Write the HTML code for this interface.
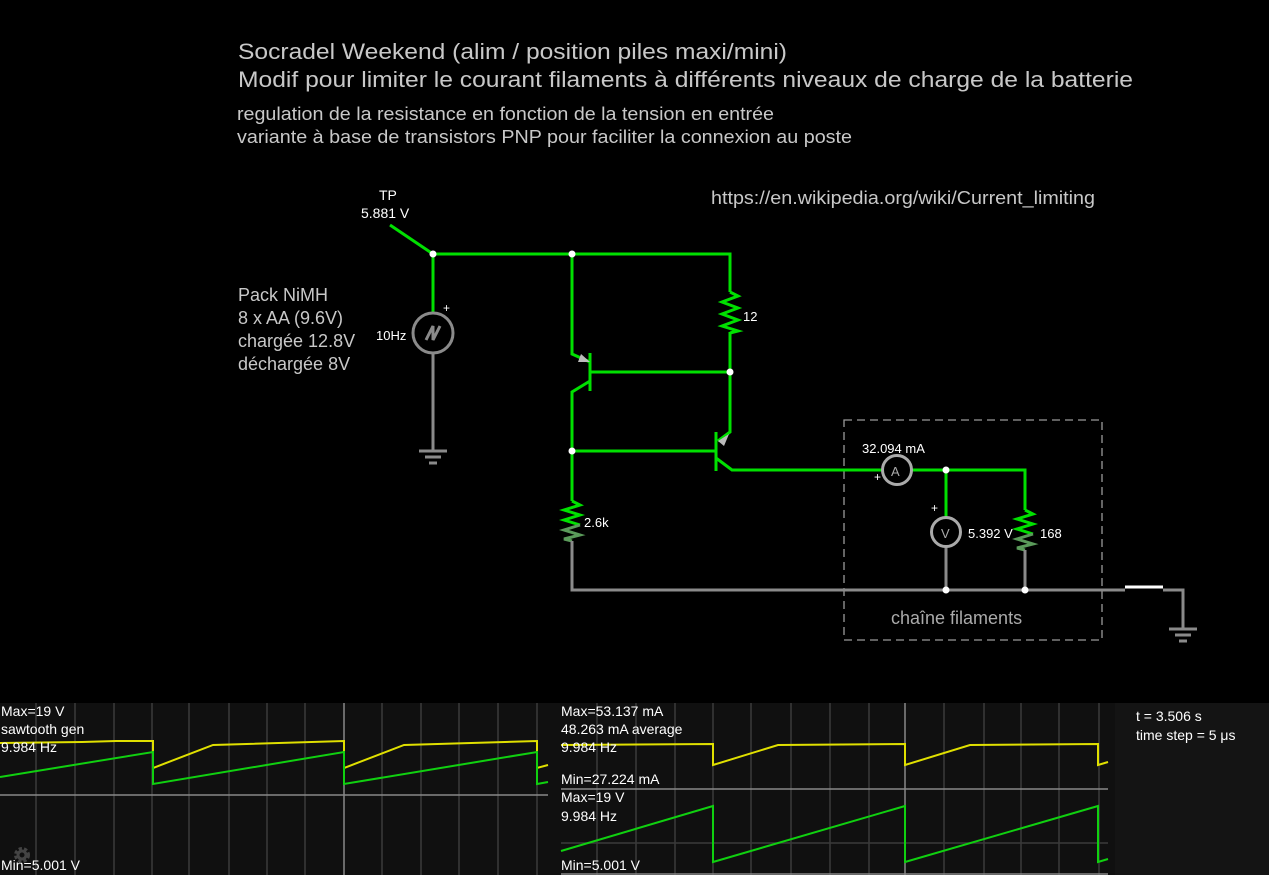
<!DOCTYPE html>
<html><head><meta charset="utf-8"><style>
html,body{margin:0;padding:0;background:#000;width:1269px;height:875px;overflow:hidden}
svg{display:block;font-family:"Liberation Sans",sans-serif}
</style></head><body>
<svg width="1269" height="875" viewBox="0 0 1269 875">
<rect width="1269" height="875" fill="#000"/>
<g fill="#c8c8c8">
<text x="238" y="59" font-size="22" textLength="549" lengthAdjust="spacingAndGlyphs">Socradel Weekend (alim / position piles maxi/mini)</text>
<text x="238" y="87" font-size="22" textLength="895" lengthAdjust="spacingAndGlyphs">Modif pour limiter le courant filaments à différents niveaux de charge de la batterie</text>
<text x="237" y="120" font-size="18" textLength="537" lengthAdjust="spacingAndGlyphs">regulation de la resistance en fonction de la tension en entrée</text>
<text x="237" y="143" font-size="18" textLength="615" lengthAdjust="spacingAndGlyphs">variante à base de transistors PNP pour faciliter la connexion au poste</text>
<text x="711" y="204" font-size="18" textLength="384" lengthAdjust="spacingAndGlyphs">https://en.wikipedia.org/wiki/Current_limiting</text>
<text x="238" y="301" font-size="18">Pack NiMH</text>
<text x="238" y="324" font-size="18">8 x AA (9.6V)</text>
<text x="238" y="347" font-size="18">chargée 12.8V</text>
<text x="238" y="370" font-size="18">déchargée 8V</text>
<text x="891" y="624" font-size="18" fill="#aaa">chaîne filaments</text>
</g>
<g fill="#fff" font-size="14">
<text x="379" y="200">TP</text>
<text x="361" y="218">5.881 V</text>
<text x="376" y="340" font-size="13">10Hz</text>
<text x="443" y="312" font-size="12">+</text>
<text x="743" y="321" font-size="13">12</text>
<text x="584" y="527" font-size="13">2.6k</text>
<text x="862" y="453" font-size="13">32.094 mA</text>
<text x="874" y="481" font-size="12">+</text>
<text x="931" y="512" font-size="12">+</text>
<text x="968" y="538" font-size="13">5.392 V</text>
<text x="1040" y="538" font-size="13">168</text>
</g>
<rect x="844" y="420" width="258" height="220" fill="none" stroke="#999" stroke-width="1.3" stroke-dasharray="8,5"/>
<g fill="none" stroke="#00e000" stroke-width="3" stroke-linejoin="miter">
<polyline points="390,225 433,254 730,254 730,292"/>
<line x1="433" y1="254" x2="433" y2="312"/>
<polyline points="572,254 572,354 590,362"/>
<line x1="590" y1="353" x2="590" y2="391"/>
<line x1="590" y1="372" x2="730" y2="372"/>
<polyline points="590,381 572,392 572,501"/>
<line x1="572" y1="451" x2="716" y2="451"/>
<polyline points="730,332 730,432 718,441"/>
<line x1="716" y1="432" x2="716" y2="471"/>
<polyline points="716,458 732,470 882,470"/>
<polyline points="912,470 1025,470 1025,510"/>
<line x1="946" y1="470" x2="946" y2="517"/>
<polyline points="730,292 738,296 722,302 738,308 722,314 738,320 722,326 738,331 730,333"/>
<polyline points="572,501 580,505 564,510 580,515 564,520 580,525"/>
<polyline points="1025,510 1033,514 1017,519 1033,524 1017,529 1033,534"/>
</g>
<g fill="none" stroke="#5a9a5a" stroke-width="3">
<polyline points="580,525 564,530 580,535 564,539 572,541"/>
<polyline points="1033,534 1017,539 1033,544 1017,548 1025,550"/>
</g>
<polygon points="590,362 581,354 578,362" fill="#bbb"/>
<polygon points="718,441 729,434 724,446" fill="#bbb"/>
<g fill="none" stroke="#8a8a8a" stroke-width="3">
<line x1="433" y1="353" x2="433" y2="451"/>
<polyline points="572,541 572,590 1125,590"/>
<line x1="946" y1="547" x2="946" y2="590"/>
<line x1="1025" y1="550" x2="1025" y2="590"/>
<polyline points="1163,590 1183,590 1183,628"/>
<line x1="419" y1="451" x2="447" y2="451"/>
<line x1="425" y1="457" x2="441" y2="457"/>
<line x1="429" y1="463" x2="437" y2="463"/>
<line x1="1169" y1="629" x2="1197" y2="629"/>
<line x1="1175" y1="635" x2="1191" y2="635"/>
<line x1="1179" y1="641" x2="1187" y2="641"/>
<circle cx="433" cy="333" r="20"/>
<circle cx="897" cy="470" r="14.5" stroke="#aaa"/>
<circle cx="946" cy="532" r="14.5" stroke="#aaa"/>
</g>
<polyline points="426,340 433,326 433,340 440,326" fill="none" stroke="#8a8a8a" stroke-width="3"/>
<text x="891" y="476" font-size="13" fill="#aaa">A</text>
<text x="941" y="538" font-size="13" fill="#aaa">V</text>
<line x1="1125" y1="587" x2="1163" y2="587" stroke="#fff" stroke-width="3"/>
<g fill="#fff">
<circle cx="433" cy="254" r="3.5"/><circle cx="572" cy="254" r="3.5"/>
<circle cx="730" cy="372" r="3.5"/><circle cx="572" cy="451" r="3.5"/>
<circle cx="946" cy="470" r="3.5"/><circle cx="946" cy="590" r="3.5"/>
<circle cx="1025" cy="590" r="3.5"/>
</g>
<rect x="0" y="703" width="1269" height="172" fill="#101010"/>
<rect x="1115" y="703" width="154" height="172" fill="#141414"/>
<g stroke="#3a3a3a" stroke-width="1.5">
<line x1="36" y1="703" x2="36" y2="875"/><line x1="75" y1="703" x2="75" y2="875"/>
<line x1="114" y1="703" x2="114" y2="875"/><line x1="152" y1="703" x2="152" y2="875"/>
<line x1="189" y1="703" x2="189" y2="875"/><line x1="229" y1="703" x2="229" y2="875"/>
<line x1="267" y1="703" x2="267" y2="875"/><line x1="305" y1="703" x2="305" y2="875"/>
<line x1="382" y1="703" x2="382" y2="875"/><line x1="421" y1="703" x2="421" y2="875"/>
<line x1="459" y1="703" x2="459" y2="875"/><line x1="498" y1="703" x2="498" y2="875"/>
<line x1="537" y1="703" x2="537" y2="875"/>
<line x1="597" y1="703" x2="597" y2="875"/><line x1="636" y1="703" x2="636" y2="875"/>
<line x1="675" y1="703" x2="675" y2="875"/><line x1="713" y1="703" x2="713" y2="875"/>
<line x1="751" y1="703" x2="751" y2="875"/><line x1="791" y1="703" x2="791" y2="875"/>
<line x1="830" y1="703" x2="830" y2="875"/><line x1="869" y1="703" x2="869" y2="875"/>
<line x1="944" y1="703" x2="944" y2="875"/><line x1="984" y1="703" x2="984" y2="875"/>
<line x1="1021" y1="703" x2="1021" y2="875"/><line x1="1059" y1="703" x2="1059" y2="875"/>
<line x1="1099" y1="703" x2="1099" y2="875"/>
<line x1="561" y1="843" x2="1108" y2="843"/>
</g>
<g stroke="#888" stroke-width="1.5">
<line x1="344" y1="703" x2="344" y2="875"/>
<line x1="905" y1="703" x2="905" y2="875"/>
<line x1="0" y1="795" x2="548" y2="795"/>
<line x1="561" y1="789" x2="1108" y2="789"/>
<line x1="561" y1="874" x2="1108" y2="874"/>
</g>
<g fill="none" stroke-width="2">
<polyline stroke="#e0e000" points="0,743 82,742 116,741 153,741 153,768 213,745 344,741 344,768 404,745 537,741 537,768 548,765"/>
<polyline stroke="#10d010" points="0,777 153,752 153,784 344,752 344,784 537,752 537,784 548,782"/>
<polyline stroke="#e0e000" points="561,745 713,744 713,765 778,745 905,744 905,765 970,745 1098,744 1098,765 1108,762"/>
<polyline stroke="#10d010" points="561,851 713,806 713,862 905,806 905,862 1098,806 1098,862 1108,859"/>
</g>
<g fill="#fff" font-size="14">
<text x="1" y="716">Max=19 V</text>
<text x="1" y="734">sawtooth gen</text>
<text x="1" y="752">9.984 Hz</text>
<text x="1" y="870">Min=5.001 V</text>
<text x="561" y="716">Max=53.137 mA</text>
<text x="561" y="734">48.263 mA average</text>
<text x="561" y="752">9.984 Hz</text>
<text x="561" y="784">Min=27.224 mA</text>
<text x="561" y="802">Max=19 V</text>
<text x="561" y="821">9.984 Hz</text>
<text x="561" y="870">Min=5.001 V</text>
<text x="1136" y="721">t = 3.506 s</text>
<text x="1136" y="740">time step = 5 μs</text>
</g>
<circle cx="22" cy="855" r="6" fill="none" stroke="#444" stroke-width="4" stroke-dasharray="3,2"/>
<circle cx="22" cy="855" r="4" fill="none" stroke="#444" stroke-width="3"/>
</svg>
</body></html>
